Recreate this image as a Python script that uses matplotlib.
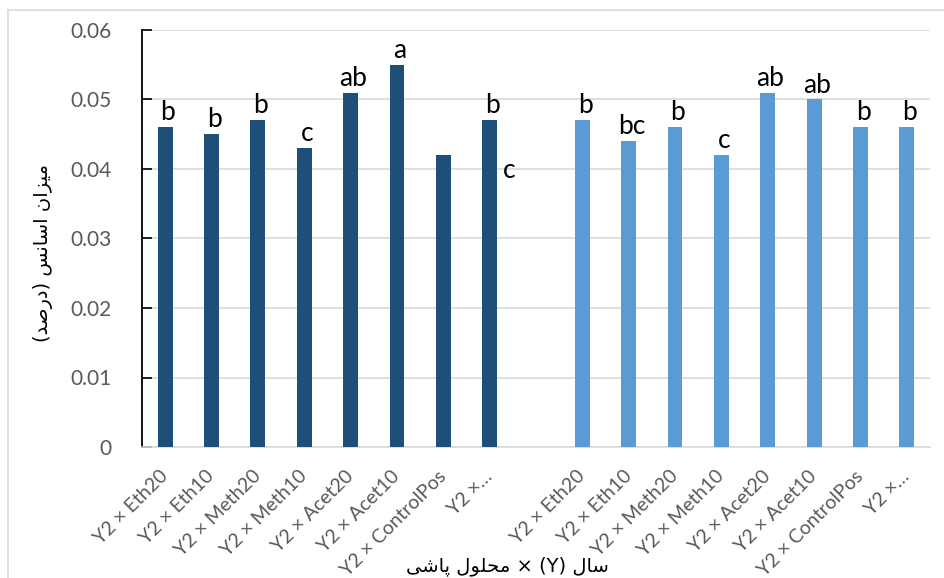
import matplotlib
matplotlib.use("Agg")
import matplotlib.pyplot as plt
import numpy as np
from matplotlib.lines import Line2D

# ---------------- data ----------------
categories = ["Y2 × Eth20", "Y2 × Eth10", "Y2 × Meth20", "Y2 × Meth10",
              "Y2 × Acet20", "Y2 × Acet10", "Y2 × ControlPos", "Y2 ×…", "",
              "Y2 × Eth20", "Y2 × Eth10", "Y2 × Meth20", "Y2 × Meth10",
              "Y2 × Acet20", "Y2 × Acet10", "Y2 × ControlPos", "Y2 ×…"]
dark_values = [0.046, 0.045, 0.047, 0.043, 0.051, 0.055, 0.042, 0.047]
light_values = [0.047, 0.044, 0.046, 0.042, 0.051, 0.050, 0.046, 0.046]
dark_letters = ["b", "b", "b", "c", "ab", "a", "", "b"]
light_letters = ["b", "bc", "b", "c", "ab", "ab", "b", "b"]
stray_letter = "c"          # letter drawn beside the 8th dark bar
stray_value = 0.0398
yticks = [0, 0.01, 0.02, 0.03, 0.04, 0.05, 0.06]
ytick_labels = ["0", "0.01", "0.02", "0.03", "0.04", "0.05", "0.06"]
# Persian labels in visual (presentation-form) order
ylabel_text = "(ﺪﺻﺭﺩ) ﺲﻧﺎﺳﺍ ﻥﺍﺰﯿﻣ"
xlabel_text = "ﯽﺷﺎﭘ ﻝﻮﻠﺤﻣ × (Y) ﻝﺎﺳ"

DARK = "#1F4E79"
LIGHT = "#5B9BD5"
GRAY_TXT = "#595959"
GRID = "#D9D9D9"
LAT = ["Lato", "DejaVu Sans"]

fig = plt.figure(figsize=(9.44, 5.78), dpi=100)
ax = fig.add_axes([142/944, 1-447/578, (930-142)/944, (447-30)/578])

x_dark = np.arange(len(dark_values))
x_light = np.arange(len(light_values)) + len(dark_values) + 1
bw = 0.32
ax.bar(x_dark, dark_values, width=bw, color=DARK, zorder=3)
ax.bar(x_light, light_values, width=bw, color=LIGHT, zorder=3)

for xi, v, t in zip(x_dark, dark_values, dark_letters):
    if t:
        ax.annotate(t, (xi, v), xytext=(2, 5), textcoords="offset points",
                    ha="center", va="baseline", fontsize=19, family=LAT, color="black")
for xi, v, t in zip(x_light, light_values, light_letters):
    ax.annotate(t, (xi, v), xytext=(2, 5), textcoords="offset points",
                ha="center", va="baseline", fontsize=19, family=LAT, color="black")
ax.text(x_dark[-1] + 0.42, stray_value, stray_letter, ha="center", va="center",
        fontsize=19, family=LAT, color="black")

ax.set_xlim(-0.5, len(categories) - 0.5)
ax.set_ylim(0, 0.06)
ax.set_yticks(yticks)
ax.set_yticklabels(ytick_labels, family=LAT, fontsize=15, color=GRAY_TXT)
ax.yaxis.grid(True, color=GRID, linewidth=1.2, zorder=0)
ax.set_axisbelow(True)

ax.set_xticks(np.arange(len(categories)))
ax.set_xticklabels(categories, rotation=45, ha="right", va="center",
                   rotation_mode="anchor", family=LAT, fontsize=14, color=GRAY_TXT)
ax.tick_params(axis="x", length=0, pad=19)
ax.tick_params(axis="y", direction="in", length=7, width=1.2, color="black", pad=22)

for s in ["top", "right"]:
    ax.spines[s].set_visible(False)
ax.spines["left"].set_color("black")
ax.spines["left"].set_linewidth(1.3)
ax.spines["bottom"].set_color(GRID)
ax.spines["bottom"].set_linewidth(1.2)

fig.text(43/944, 1-253/578, ylabel_text, rotation=90, ha="center", va="center",
         fontsize=14, family=["DejaVu Sans"], color="black")
fig.text(507/944, 1-566/578, xlabel_text, ha="center", va="center",
         fontsize=14, family=["DejaVu Sans"], color="black")

# chart-area border (only left and top visible in the crop)
fig.add_artist(Line2D([8/944, 8/944], [0, 1-10/578], transform=fig.transFigure,
                      color=GRID, linewidth=1.2))
fig.add_artist(Line2D([8/944, 1], [1-10/578, 1-10/578], transform=fig.transFigure,
                      color=GRID, linewidth=1.2))

fig.savefig("out.png", dpi=100)
